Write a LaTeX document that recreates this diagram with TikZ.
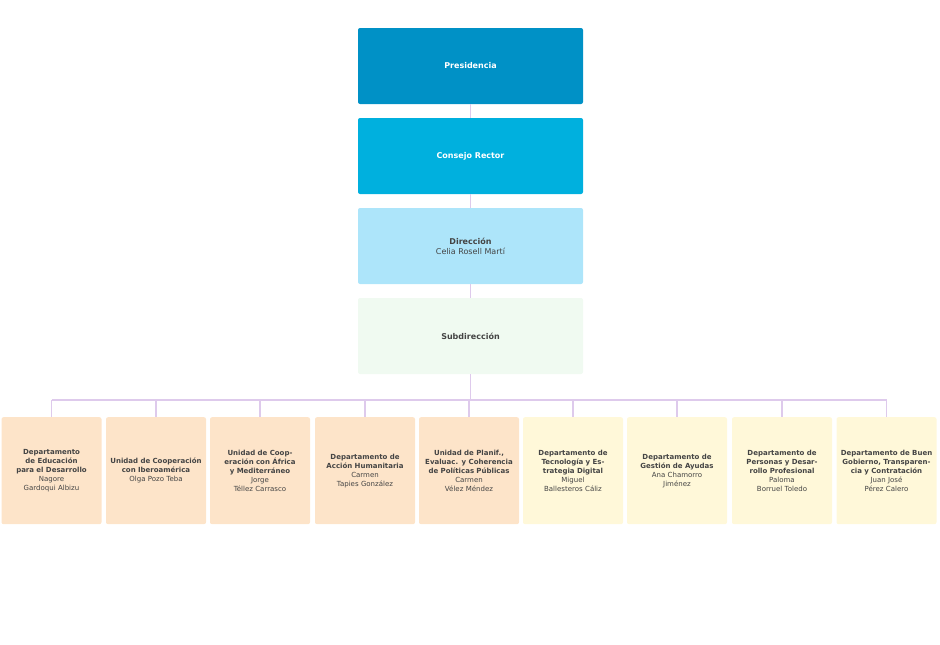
\documentclass[tikz,border=0pt]{standalone}
\usepackage{fontspec}
\setmainfont{DejaVu Sans}
\definecolor{presicolor}{RGB}{0,145,198}
\definecolor{consecolor}{RGB}{0,176,222}
\definecolor{direcolor}{RGB}{173,229,250}
\definecolor{subdcolor}{RGB}{240,250,241}
\definecolor{unitcolor}{RGB}{253,228,201}
\definecolor{deptcolor}{RGB}{255,248,217}
\definecolor{linkcolor}{RGB}{222,202,236}
\definecolor{textcolor}{RGB}{68,68,68}
\begin{document}
\begin{tikzpicture}[x=1pt,y=-1pt]
\tikzstyle{topbox}=[rounded corners=2pt,minimum width=225pt,minimum height=76pt,inner sep=2pt,align=center,font=\fontsize{8}{10}\selectfont]
\tikzstyle{lowbox}=[rounded corners=2pt,minimum width=98pt,minimum height=107pt,inner sep=1pt,align=center,text width=98pt,font=\fontsize{7}{9}\selectfont,text=textcolor]
\tikzstyle{unit}=[lowbox,fill=unitcolor]
\tikzstyle{dept}=[lowbox,fill=deptcolor]
\tikzstyle{link}=[linkcolor,line width=1.2pt]
\useasboundingbox (0,0) rectangle (940,645);
\node[topbox,fill=presicolor,text=white] (presi) at (470.5,66) {\bfseries Presidencia};
\node[topbox,fill=consecolor,text=white] (conse) at (470.5,156) {\bfseries Consejo Rector};
\node[topbox,fill=direcolor,text=textcolor] (direc) at (470.5,246) {\textbf{Dirección}\\Celia Rosell Martí};
\node[topbox,fill=subdcolor,text=textcolor] (subd) at (470.5,336) {\bfseries Subdirección};
\coordinate (bus) at (470.5,400);
\node[unit,anchor=north] (u1) at (51.5,417) {\textbf{Departamento de Educación para el Desarrollo}\\Nagore\\Gardoqui Albizu};
\node[unit,anchor=north] (u2) at (156,417) {\textbf{Unidad de Cooperación con Iberoamérica}\\Olga Pozo Teba};
\node[unit,anchor=north] (u3) at (260,417) {\textbf{Unidad de Cooperación con África\\y Mediterráneo}\\Jorge\\Téllez Carrasco};
\node[unit,anchor=north] (u4) at (365,417) {\textbf{Departamento de Acción Humanitaria}\\Carmen\\Tapies González};
\node[unit,anchor=north] (u5) at (469,417) {\textbf{Unidad de Planif., Evaluac. y Coherencia de Políticas Públicas}\\Carmen\\Vélez Méndez};
\node[dept,anchor=north] (d1) at (573,417) {\textbf{Departamento de Tecnología y Estrategia Digital}\\Miguel\\Ballesteros Cáliz};
\node[dept,anchor=north] (d2) at (677,417) {\textbf{Departamento de Gestión de Ayudas}\\Ana Chamorro\\Jiménez};
\node[dept,anchor=north] (d3) at (782,417) {\textbf{Departamento de Personas y Desarrollo Profesional}\\Paloma\\Borruel Toledo};
\node[dept,anchor=north] (d4) at (886.5,417) {\textbf{Departamento de Buen Gobierno, Transparencia y Contratación}\\Juan José\\Pérez Calero};
\draw[link] (presi) -- (conse);
\draw[link] (conse) -- (direc);
\draw[link] (direc) -- (subd);
\draw[link] (subd) -- (bus);
\draw[link] (u1.north |- bus) -- (d4.north |- bus);
\foreach \n in {u1,u2,u3,u4,u5,d1,d2,d3,d4}
  \draw[link] (\n.north |- bus) -- (\n.north);
\end{tikzpicture}
\end{document}
